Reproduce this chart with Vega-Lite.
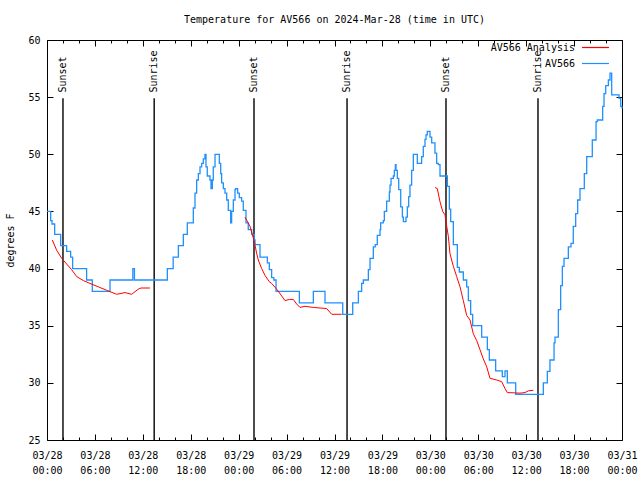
{
  "$schema": "https://vega.github.io/schema/vega-lite/v6.json",
  "width": 575,
  "height": 400,
  "autosize": "none",
  "padding": {"left": 47, "top": 40, "right": 18, "bottom": 40},
  "background": "white",
  "title": {"text": "Temperature for AV566 on 2024-Mar-28 (time in UTC)", "font": "DejaVu Sans Mono", "fontSize": 10, "fontWeight": "normal", "offset": 10, "anchor": "middle", "color": "black"},
  "config": {
    "view": {"stroke": "black", "strokeWidth": 1},
    "axis": {"labelFont": "DejaVu Sans Mono", "labelFontSize": 10, "labelColor": "black", "titleFont": "DejaVu Sans Mono", "titleFontSize": 10, "titleFontWeight": "normal", "titleColor": "black", "domain": false, "grid": false, "tickColor": "black", "tickWidth": 1}
  },
  "datasets": {
    "sun": [
      {"h": 2.0, "label": "Sunset"}, {"h": 13.42, "label": "Sunrise"},
      {"h": 25.92, "label": "Sunset"}, {"h": 37.57, "label": "Sunrise"},
      {"h": 49.96, "label": "Sunset"}, {"h": 61.48, "label": "Sunrise"}
    ],
    "obs": [
      {"h":0,"t":45},{"h":0.46,"t":44.2},{"h":0.63,"t":43.9},{"h":0.96,"t":43},{"h":1.71,"t":42},{"h":2.46,"t":41.5},{"h":2.96,"t":41},{"h":3.21,"t":40},{"h":4.96,"t":39},{"h":5.67,"t":38},{"h":7.89,"t":39},{"h":10.75,"t":40},{"h":10.95,"t":39},
      {"h":15.07,"t":40},{"h":15.8,"t":41},{"h":16.45,"t":42},{"h":17.07,"t":43},{"h":17.57,"t":44},{"h":18.32,"t":45.3},{"h":18.53,"t":46.6},{"h":18.74,"t":47.75},{"h":18.95,"t":48.3},{"h":19.16,"t":48.9},{"h":19.37,"t":49.2},{"h":19.57,"t":49.6},{"h":19.78,"t":50},
      {"h":19.91,"t":48.9},{"h":20.07,"t":48.1},{"h":20.41,"t":47.75},{"h":20.54,"t":47.0},{"h":20.7,"t":47.75},{"h":20.82,"t":48.9},{"h":21.04,"t":50},{"h":21.58,"t":49.2},{"h":21.75,"t":48.3},{"h":21.87,"t":47.5},{"h":22.08,"t":47.0},{"h":22.29,"t":46.6},{"h":22.5,"t":46.0},{"h":22.7,"t":45.1},{"h":23.0,"t":44.0},{"h":23.12,"t":45.0},{"h":23.33,"t":46.0},{"h":23.54,"t":46.9},{"h":23.62,"t":47.0},{"h":23.87,"t":46.6},{"h":24.08,"t":46.2},{"h":24.37,"t":45.9},{"h":24.58,"t":45.1},{"h":24.92,"t":44.0},{"h":25.2,"t":43.4},{"h":25.63,"t":43.0},{"h":25.96,"t":42.5},{"h":26.05,"t":42.1},
      {"h":26.67,"t":41.0},{"h":27.59,"t":40.5},{"h":27.84,"t":39.9},{"h":28.13,"t":39.2},{"h":28.4,"t":39.0},{"h":28.68,"t":38},{"h":31.6,"t":37},{"h":33.35,"t":38},{"h":34.81,"t":37},{"h":37.03,"t":36},{"h":38.28,"t":37},{"h":38.99,"t":38},{"h":39.4,"t":38.7},{"h":39.61,"t":39},{"h":40.24,"t":39.9},{"h":40.45,"t":40.9},{"h":40.86,"t":41.9},{"h":41.1,"t":42.1},{"h":41.36,"t":42.9},{"h":41.7,"t":43.4},{"h":41.78,"t":44},{"h":42.11,"t":44.2},{"h":42.24,"t":45},{"h":42.53,"t":45.9},{"h":42.87,"t":46.7},{"h":42.95,"t":47.3},{"h":43.08,"t":47.9},{"h":43.37,"t":48.1},{"h":43.49,"t":48.6},{"h":43.62,"t":49.1},{"h":43.7,"t":48.6},{"h":43.87,"t":47.9},{"h":44.04,"t":46.9},{"h":44.29,"t":45.4},{"h":44.5,"t":44.5},{"h":44.62,"t":44.1},{"h":44.95,"t":44.5},{"h":45.12,"t":45.4},{"h":45.29,"t":46.3},{"h":45.45,"t":47.3},{"h":45.66,"t":48.6},{"h":45.87,"t":50.0},{"h":46.37,"t":49.2},{"h":46.91,"t":49.8},{"h":47.12,"t":50.7},{"h":47.33,"t":51.3},{"h":47.46,"t":51.7},{"h":47.62,"t":52.0},{"h":47.96,"t":51.5},{"h":48.17,"t":51.0},{"h":48.58,"t":50.1},{"h":48.79,"t":49.2},{"h":49.0,"t":49.1},{"h":49.21,"t":48.1},
      {"h":50.13,"t":47.2},{"h":50.38,"t":45.2},{"h":50.55,"t":44.1},{"h":50.88,"t":42.1},{"h":51.38,"t":40.1},{"h":51.63,"t":39.7},{"h":52.13,"t":39.0},{"h":52.55,"t":38.4},{"h":52.76,"t":37.2},{"h":53.05,"t":36.0},{"h":53.3,"t":35.0},{"h":54.43,"t":34.0},{"h":55.14,"t":32.9},{"h":55.39,"t":32.0},{"h":56.18,"t":31.05},{"h":57.01,"t":30.55},{"h":57.35,"t":31.05},{"h":57.64,"t":30.0},{"h":58.69,"t":29.0},
      {"h":62.15,"t":30},{"h":62.65,"t":31},{"h":62.98,"t":32},{"h":63.49,"t":33.5},{"h":63.61,"t":34},{"h":64.03,"t":36.4},{"h":64.32,"t":38.5},{"h":64.53,"t":40.2},{"h":64.74,"t":40.9},{"h":65.28,"t":41.9},{"h":65.61,"t":42.2},{"h":65.9,"t":43.7},{"h":66.2,"t":44.8},{"h":66.45,"t":46.0},{"h":66.74,"t":47.0},{"h":67.28,"t":48.3},{"h":67.58,"t":49.8},{"h":68.28,"t":51.25},{"h":68.75,"t":52.85},{"h":68.91,"t":53.0},{"h":69.58,"t":54.2},{"h":69.75,"t":55.3},{"h":69.96,"t":56.0},{"h":70.29,"t":56.5},{"h":70.5,"t":57.1},{"h":70.71,"t":55.2},{"h":71.63,"t":54.9},{"h":71.84,"t":54.2},{"h":72.0,"t":54.0}
    ],
    "ana": [
      {"h":0.67,"t":42.5,"seg":1},{"h":1.21,"t":41.6,"seg":1},{"h":1.84,"t":40.9,"seg":1},{"h":2.46,"t":40.4,"seg":1},{"h":3.09,"t":39.9,"seg":1},{"h":3.72,"t":39.3,"seg":1},{"h":4.55,"t":38.95,"seg":1},{"h":5.38,"t":38.7,"seg":1},{"h":6.43,"t":38.4,"seg":1},{"h":7.47,"t":38.1,"seg":1},{"h":8.72,"t":37.75,"seg":1},{"h":9.77,"t":37.9,"seg":1},{"h":10.6,"t":37.75,"seg":1},{"h":11.43,"t":38.2,"seg":1},{"h":11.77,"t":38.3,"seg":1},{"h":12.9,"t":38.3,"seg":1},
      {"h":24.79,"t":44.5,"seg":2},{"h":25.42,"t":43.7,"seg":2},{"h":25.96,"t":42.35,"seg":2},{"h":26.26,"t":41.3,"seg":2},{"h":26.46,"t":40.75,"seg":2},{"h":26.88,"t":40.0,"seg":2},{"h":27.3,"t":39.4,"seg":2},{"h":27.84,"t":38.85,"seg":2},{"h":28.13,"t":38.7,"seg":2},{"h":28.76,"t":38.2,"seg":2},{"h":29.39,"t":37.6,"seg":2},{"h":29.8,"t":37.2,"seg":2},{"h":30.34,"t":37.3,"seg":2},{"h":30.84,"t":37.3,"seg":2},{"h":31.26,"t":36.9,"seg":2},{"h":31.68,"t":36.6,"seg":2},{"h":32.31,"t":36.7,"seg":2},{"h":33.35,"t":36.6,"seg":2},{"h":35.02,"t":36.5,"seg":2},{"h":35.65,"t":36.0,"seg":2},{"h":36.9,"t":36.0,"seg":2},
      {"h":48.58,"t":47.1,"seg":3},{"h":48.87,"t":47.0,"seg":3},{"h":49.21,"t":45.85,"seg":3},{"h":49.55,"t":45.0,"seg":3},{"h":49.84,"t":44.7,"seg":3},{"h":50.05,"t":43.7,"seg":3},{"h":50.26,"t":42.8,"seg":3},{"h":50.46,"t":41.3,"seg":3},{"h":50.88,"t":40.2,"seg":3},{"h":51.3,"t":39.3,"seg":3},{"h":51.72,"t":38.4,"seg":3},{"h":52.13,"t":37.2,"seg":3},{"h":52.55,"t":35.9,"seg":3},{"h":52.97,"t":35.5,"seg":3},{"h":53.38,"t":34.3,"seg":3},{"h":53.8,"t":33.7,"seg":3},{"h":54.22,"t":32.9,"seg":3},{"h":54.63,"t":32.1,"seg":3},{"h":55.06,"t":31.4,"seg":3},{"h":55.47,"t":30.4,"seg":3},{"h":56.31,"t":30.25,"seg":3},{"h":56.94,"t":30.1,"seg":3},{"h":57.35,"t":29.5,"seg":3},{"h":57.64,"t":29.15,"seg":3},{"h":59.23,"t":29.1,"seg":3},{"h":59.85,"t":29.15,"seg":3},{"h":60.27,"t":29.3,"seg":3},{"h":60.9,"t":29.35,"seg":3}
    ]
  },
  "resolve": {"axis": {"x": "independent", "y": "independent"}},
  "layer": [
    {
      "data": {"name": "sun"},
      "mark": {"type": "rule", "color": "black", "strokeWidth": 1.4},
      "encoding": {
        "x": {"field": "h", "type": "quantitative", "scale": {"domain": [0, 72], "nice": false, "zero": false},
          "axis": {"orient": "bottom", "title": null, "values": [0,6,12,18,24,30,36,42,48,54,60,66,72], "tickSize": -6, "labelPadding": 16, "labelBaseline": "top", "labelLineHeight": 15, "labelAngle": 0, "labelFlush": false, "labelOverlap": false,
            "labelExpr": "['03/' + (28 + floor(datum.value / 24)), (datum.value % 24 < 10 ? '0' : '') + (datum.value % 24) + ':00']"}},
        "y": {"datum": 25, "type": "quantitative", "scale": {"domain": [25, 60], "nice": false, "zero": false},
          "axis": {"orient": "left", "title": "degrees F", "values": [25,30,35,40,45,50,55,60], "tickSize": -6, "labelPadding": 13, "titlePadding": 12}},
        "y2": {"datum": 54.9}
      }
    },
    {
      "data": {"name": "sun"},
      "mark": {"type": "text", "angle": 270, "align": "left", "baseline": "middle", "font": "DejaVu Sans Mono", "fontSize": 10, "color": "black"},
      "encoding": {
        "x": {"field": "h", "type": "quantitative", "axis": {"orient": "bottom", "title": null, "labels": false, "tickSize": -3, "values": [2,4,8,10,14,16,20,22,26,28,32,34,38,40,44,46,50,52,56,58,62,64,68,70]}},
        "y": {"datum": 55.4, "type": "quantitative", "axis": {"orient": "right", "title": null, "labels": false, "tickSize": -6, "values": [25,30,35,40,45,50,55,60]}},
        "text": {"field": "label"}
      }
    },
    {
      "data": {"name": "obs"},
      "mark": {"type": "line", "interpolate": "step-after", "strokeWidth": 1.3},
      "encoding": {
        "x": {"field": "h", "type": "quantitative", "axis": {"orient": "top", "title": null, "labels": false, "tickSize": -6, "values": [0,6,12,18,24,30,36,42,48,54,60,66,72]}},
        "y": {"field": "t", "type": "quantitative", "axis": null},
        "color": {"datum": "AV566", "type": "nominal",
          "scale": {"domain": ["AV566 Analysis", "AV566"], "range": ["#ff0000", "#1e90ff"]},
          "legend": {"orient": "none", "legendX": 543, "legendY": 2, "title": null, "symbolType": "M-3,0H3", "symbolSize": 81, "symbolStrokeWidth": 1.2, "labelFont": "DejaVu Sans Mono", "labelFontSize": 10, "labelColor": "black", "labelAlign": "right", "labelOffset": -26, "rowPadding": 5, "padding": 0, "labelLimit": 0}}
      }
    },
    {
      "data": {"name": "ana"},
      "mark": {"type": "line", "strokeWidth": 1},
      "encoding": {
        "x": {"field": "h", "type": "quantitative", "axis": {"orient": "top", "title": null, "labels": false, "tickSize": -3, "values": [2,4,8,10,14,16,20,22,26,28,32,34,38,40,44,46,50,52,56,58,62,64,68,70]}},
        "y": {"field": "t", "type": "quantitative", "axis": null},
        "detail": {"field": "seg", "type": "nominal"},
        "color": {"datum": "AV566 Analysis", "type": "nominal"}
      }
    }
  ]
}
